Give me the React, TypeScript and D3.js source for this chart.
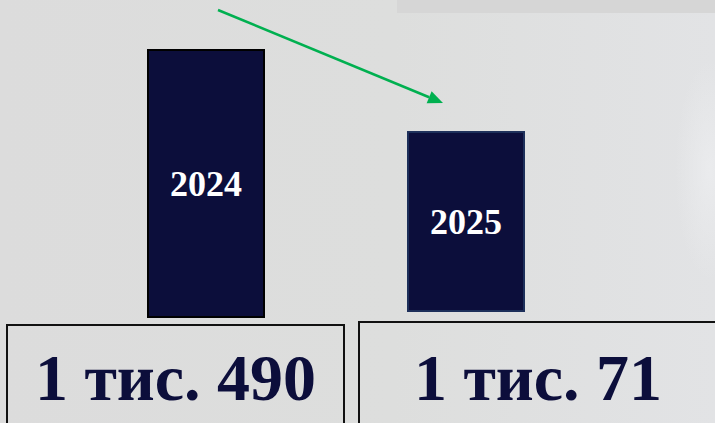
import { useEffect } from "react"
import * as d3 from "d3"

const years = ["2024", "2025"]
const values = [1490, 1071]
const valueLabels = ["1 тис. 490", "1 тис. 71"]

const W = 715
const H = 423
const NAVY = "#0c0e3b"
const SERIF = "'Liberation Serif', 'Times New Roman', serif"

export default function App() {
  useEffect(() => {
    document.body.style.margin = "0"
  }, [])

  const x = d3.scalePoint<string>().domain(years).range([206, 466])
  const barW = 116
  // bar heights measured from each bar's own base
  const h = d3.scaleLinear().domain([219, 1490]).range([0, 267])
  const bases = [317, 311]
  const barStroke = ["#000000", "#1d2f5a"]

  const boxes = [
    { x0: 7, x1: 344, top: 325 },
    { x0: 359, x1: 717, top: 322 },
  ]

  const arrow = { x1: 218, y1: 10, x2: 443, y2: 103 }
  const ang = Math.atan2(arrow.y2 - arrow.y1, arrow.x2 - arrow.x1)
  const headLen = 15
  const headHalf = 6.5
  const bx = arrow.x2 - headLen * Math.cos(ang)
  const by = arrow.y2 - headLen * Math.sin(ang)
  const head = [
    [arrow.x2, arrow.y2],
    [bx - headHalf * Math.sin(ang), by + headHalf * Math.cos(ang)],
    [bx + headHalf * Math.sin(ang), by - headHalf * Math.cos(ang)],
  ]

  return (
    <svg width={W} height={H} style={{ display: "block" }}>
      <defs>
        <linearGradient id="bg" x1="0" x2="1" y1="0" y2="0">
          <stop offset="0" stopColor="#dcdcdc" />
          <stop offset="0.55" stopColor="#dddedd" />
          <stop offset="1" stopColor="#e2e3e5" />
        </linearGradient>
        <radialGradient id="glow" cx="0.5" cy="0.5" r="0.5">
          <stop offset="0" stopColor="#eeeff1" stopOpacity="0.7" />
          <stop offset="1" stopColor="#eeeff1" stopOpacity="0" />
        </radialGradient>
      </defs>
      <rect width={W} height={H} fill="url(#bg)" />
      <rect x={397} y={0} width={W - 397} height={13} fill="#d6d6d6" />
      <ellipse cx={710} cy={170} rx={35} ry={110} fill="url(#glow)" />

      <line
        x1={arrow.x1}
        y1={arrow.y1}
        x2={bx}
        y2={by}
        stroke="#00b050"
        strokeWidth={2.5}
      />
      <polygon points={head.map((p) => p.join(",")).join(" ")} fill="#00b050" />

      {years.map((yr, i) => {
        const bh = h(values[i])
        const top = bases[i] - bh
        return (
          <g key={yr}>
            <rect
              x={(x(yr) ?? 0) - barW / 2}
              y={top}
              width={barW}
              height={bh}
              fill={NAVY}
              stroke={barStroke[i]}
              strokeWidth={2}
            />
            <text
              x={x(yr)}
              y={top + bh / 2 + 12}
              textAnchor="middle"
              fill="#ffffff"
              fontFamily={SERIF}
              fontWeight="bold"
              fontSize={36}
            >
              {yr}
            </text>
          </g>
        )
      })}

      {boxes.map((b, i) => (
        <g key={i}>
          <rect
            x={b.x0}
            y={b.top}
            width={b.x1 - b.x0}
            height={H - b.top + 5}
            fill="none"
            stroke="#111111"
            strokeWidth={2}
          />
          <text
            x={(b.x0 + b.x1) / 2}
            y={400}
            textAnchor="middle"
            fill={NAVY}
            fontFamily={SERIF}
            fontWeight="bold"
            fontSize={66}
          >
            {valueLabels[i]}
          </text>
        </g>
      ))}
    </svg>
  )
}
